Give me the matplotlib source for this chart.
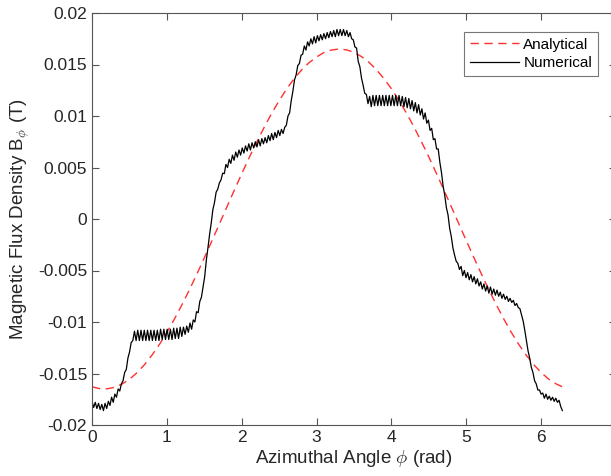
import numpy as np
import matplotlib
matplotlib.use('Agg')
import matplotlib.pyplot as plt

# numerical solution, 1.25 degree steps from 0 to 2*pi, values in mT
numerical_mT = [
    -17.7, -18.3, -17.8, -18.4, -17.9, -18.5, -18.0, -18.6, -17.9, -18.4,
    -17.7, -18.1, -17.3, -17.8, -17.0, -17.3, -16.5, -16.7, -16.0, -15.7,
    -14.9, -14.6, -13.5, -12.9, -12.0, -11.8, -10.9, -11.8, -10.8, -11.8,
    -10.8, -11.8, -10.8, -11.8, -10.8, -11.8, -10.8, -11.8, -10.8, -11.8,
    -10.8, -11.8, -10.7, -11.7, -10.7, -11.7, -10.7, -11.7, -10.7, -11.7,
    -10.6, -11.6, -10.6, -11.6, -10.5, -11.4, -10.5, -11.2, -10.4, -11.0,
    -10.1, -10.7, -9.8, -10.0, -9.0, -9.1, -8.0, -7.6, -6.6, -5.6,
    -4.0, -2.8, -1.5, -0.4, 0.9, 1.6, 2.6, 2.9, 3.5, 3.8,
    4.45, 4.4, 5.3, 5.0, 5.8, 5.4, 6.2, 5.7, 6.5, 6.0,
    6.7, 6.2, 6.9, 6.4, 7.1, 6.6, 7.3, 6.7, 7.4, 6.9,
    7.5, 7.0, 7.7, 7.1, 7.8, 7.3, 7.9, 7.4, 8.1, 7.6,
    8.3, 7.7, 8.4, 7.9, 8.6, 8.1, 8.7, 8.3, 8.9, 9.1,
    10.0, 10.3, 11.5, 12.4, 13.5, 14.0, 14.9, 15.1, 15.9, 16.0,
    16.8, 16.4, 17.2, 16.8, 17.5, 17.0, 17.7, 17.1, 17.8, 17.3,
    17.9, 17.4, 18.0, 17.5, 18.1, 17.6, 18.2, 17.7, 18.3, 17.7,
    18.4, 17.8, 18.4, 17.8, 18.4, 17.8, 18.3, 17.7, 18.1, 17.5,
    17.4, 16.7, 16.6, 15.3, 14.8, 13.7, 13.0, 12.2, 12.1, 11.2,
    11.9, 10.9, 12.0, 11.0, 12.0, 11.0, 12.0, 11.0, 12.0, 11.0,
    12.0, 11.0, 12.0, 11.0, 12.0, 11.0, 12.0, 11.0, 12.0, 11.0,
    11.9, 10.9, 11.8, 10.8, 11.7, 10.7, 11.5, 10.5, 11.3, 10.3,
    11.1, 10.1, 10.7, 9.7, 10.3, 9.3, 9.6, 8.6, 8.8, 7.7,
    7.8, 6.8, 6.8, 5.5, 4.5, 3.2, 2.3, 1.1, 0.4, -0.9,
    -1.7, -2.8, -3.5, -4.1, -4.3, -4.9, -4.6, -5.5, -5.0, -5.7,
    -5.2, -5.9, -5.4, -6.1, -5.6, -6.3, -5.8, -6.5, -6.1, -6.8,
    -6.3, -7.0, -6.5, -7.2, -6.6, -7.3, -6.8, -7.4, -6.9, -7.5,
    -7.1, -7.7, -7.3, -7.8, -7.5, -8.0, -7.7, -8.1, -7.9, -8.4,
    -8.2, -8.6, -8.7, -9.3, -9.9, -10.8, -11.8, -12.8, -13.5, -14.4,
    -14.9, -15.7, -16.0, -16.6, -16.6, -17.0, -16.9, -17.4, -17.0, -17.5,
    -17.2, -17.6, -17.3, -17.7, -17.4, -17.8, -17.6, -18.2, -18.6,
]
phi_num = np.linspace(0, 2 * np.pi, len(numerical_mT))

# analytical solution, values in mT
phi_ana = [0.0, 0.1, 0.2, 0.3, 0.4, 0.5, 0.6, 0.7, 0.8, 0.9,
           1.0, 1.1, 1.2, 1.3, 1.4, 1.5, 1.6, 1.7, 1.8, 1.9,
           2.0, 2.1, 2.2, 2.3, 2.4, 2.5, 2.6, 2.7, 2.8, 2.9,
           3.0, 3.1, 3.2, 3.3, 3.4, 3.5, 3.6, 3.7, 3.8, 3.9,
           4.0, 4.1, 4.2, 4.3, 4.4, 4.5, 4.6, 4.7, 4.8, 4.9,
           5.0, 5.1, 5.2, 5.3, 5.4, 5.5, 5.6, 5.7, 5.8, 5.9,
           6.0, 6.1, 6.2, 6.2832]
analytical_mT = [-16.29, -16.47, -16.49, -16.34, -16.03, -15.56, -14.93, -14.15, -13.23, -12.19,
                 -11.01, -9.73, -8.35, -6.89, -5.36, -3.78, -2.15, -0.51, 1.14, 2.78,
                 4.39, 5.96, 7.46, 8.90, 10.26, 11.49, 12.62, 13.62, 14.47, 15.18,
                 15.73, 16.17, 16.41, 16.50, 16.42, 16.18, 15.77, 15.21, 14.49, 13.63,
                 12.64, 11.52, 10.29, 8.95, 7.52, 6.02, 4.44, 2.83, 1.19, -0.46,
                 -2.10, -3.72, -5.31, -6.84, -8.31, -9.70, -10.99, -12.16, -13.21, -14.13,
                 -14.91, -15.54, -16.01, -16.29]

x_ticks = [0, 1, 2, 3, 4, 5, 6, 7]
y_ticks = [-0.02, -0.015, -0.01, -0.005, 0, 0.005, 0.01, 0.015, 0.02]
y_tick_labels = ['-0.02', '-0.015', '-0.01', '-0.005', '0', '0.005', '0.01', '0.015', '0.02']

plt.rcParams['font.family'] = ['Liberation Sans', 'DejaVu Sans']
plt.rcParams['mathtext.fontset'] = 'cm'

fig = plt.figure(figsize=(6.11, 4.76), dpi=100)
# the right edge of the axes runs just past the figure edge, as in the reference
ax = fig.add_axes([92 / 611, 51 / 476, 524 / 611, 412 / 476])

ax.plot(phi_ana, np.array(analytical_mT) * 1e-3, color='#ff3030', lw=1.0,
        dashes=(6, 4), label='Analytical')
ax.plot(phi_num, np.array(numerical_mT) * 1e-3, color='black', lw=0.9,
        label='Numerical')

ax.set_xlim(0, 7)
ax.set_ylim(-0.02, 0.02)
ax.set_xticks(x_ticks)
ax.set_yticks(y_ticks)
ax.set_yticklabels(y_tick_labels)

ax.tick_params(direction='in', length=5, width=0.8, color='#555555',
               labelsize=12.5, labelcolor='#262626', top=True, right=True)
for s in ax.spines.values():
    s.set_color('#555555')
    s.set_linewidth(0.8)

ax.set_xlabel(r'Azimuthal Angle $\phi$ (rad)', fontsize=13.5, color='#262626', labelpad=2)
ax.set_ylabel(r'Magnetic Flux Density B$_\phi$ (T)', fontsize=13.5, color='#262626', labelpad=4)

leg = ax.legend(loc='upper right', bbox_to_anchor=(0.966, 0.955), fontsize=11,
                fancybox=False, handlelength=3.2, borderpad=0.4, labelspacing=0.3,
                handletextpad=0.3, borderaxespad=0)
leg.get_frame().set_edgecolor('#555555')
leg.get_frame().set_linewidth(0.8)

plt.savefig('out.png', dpi=100)
